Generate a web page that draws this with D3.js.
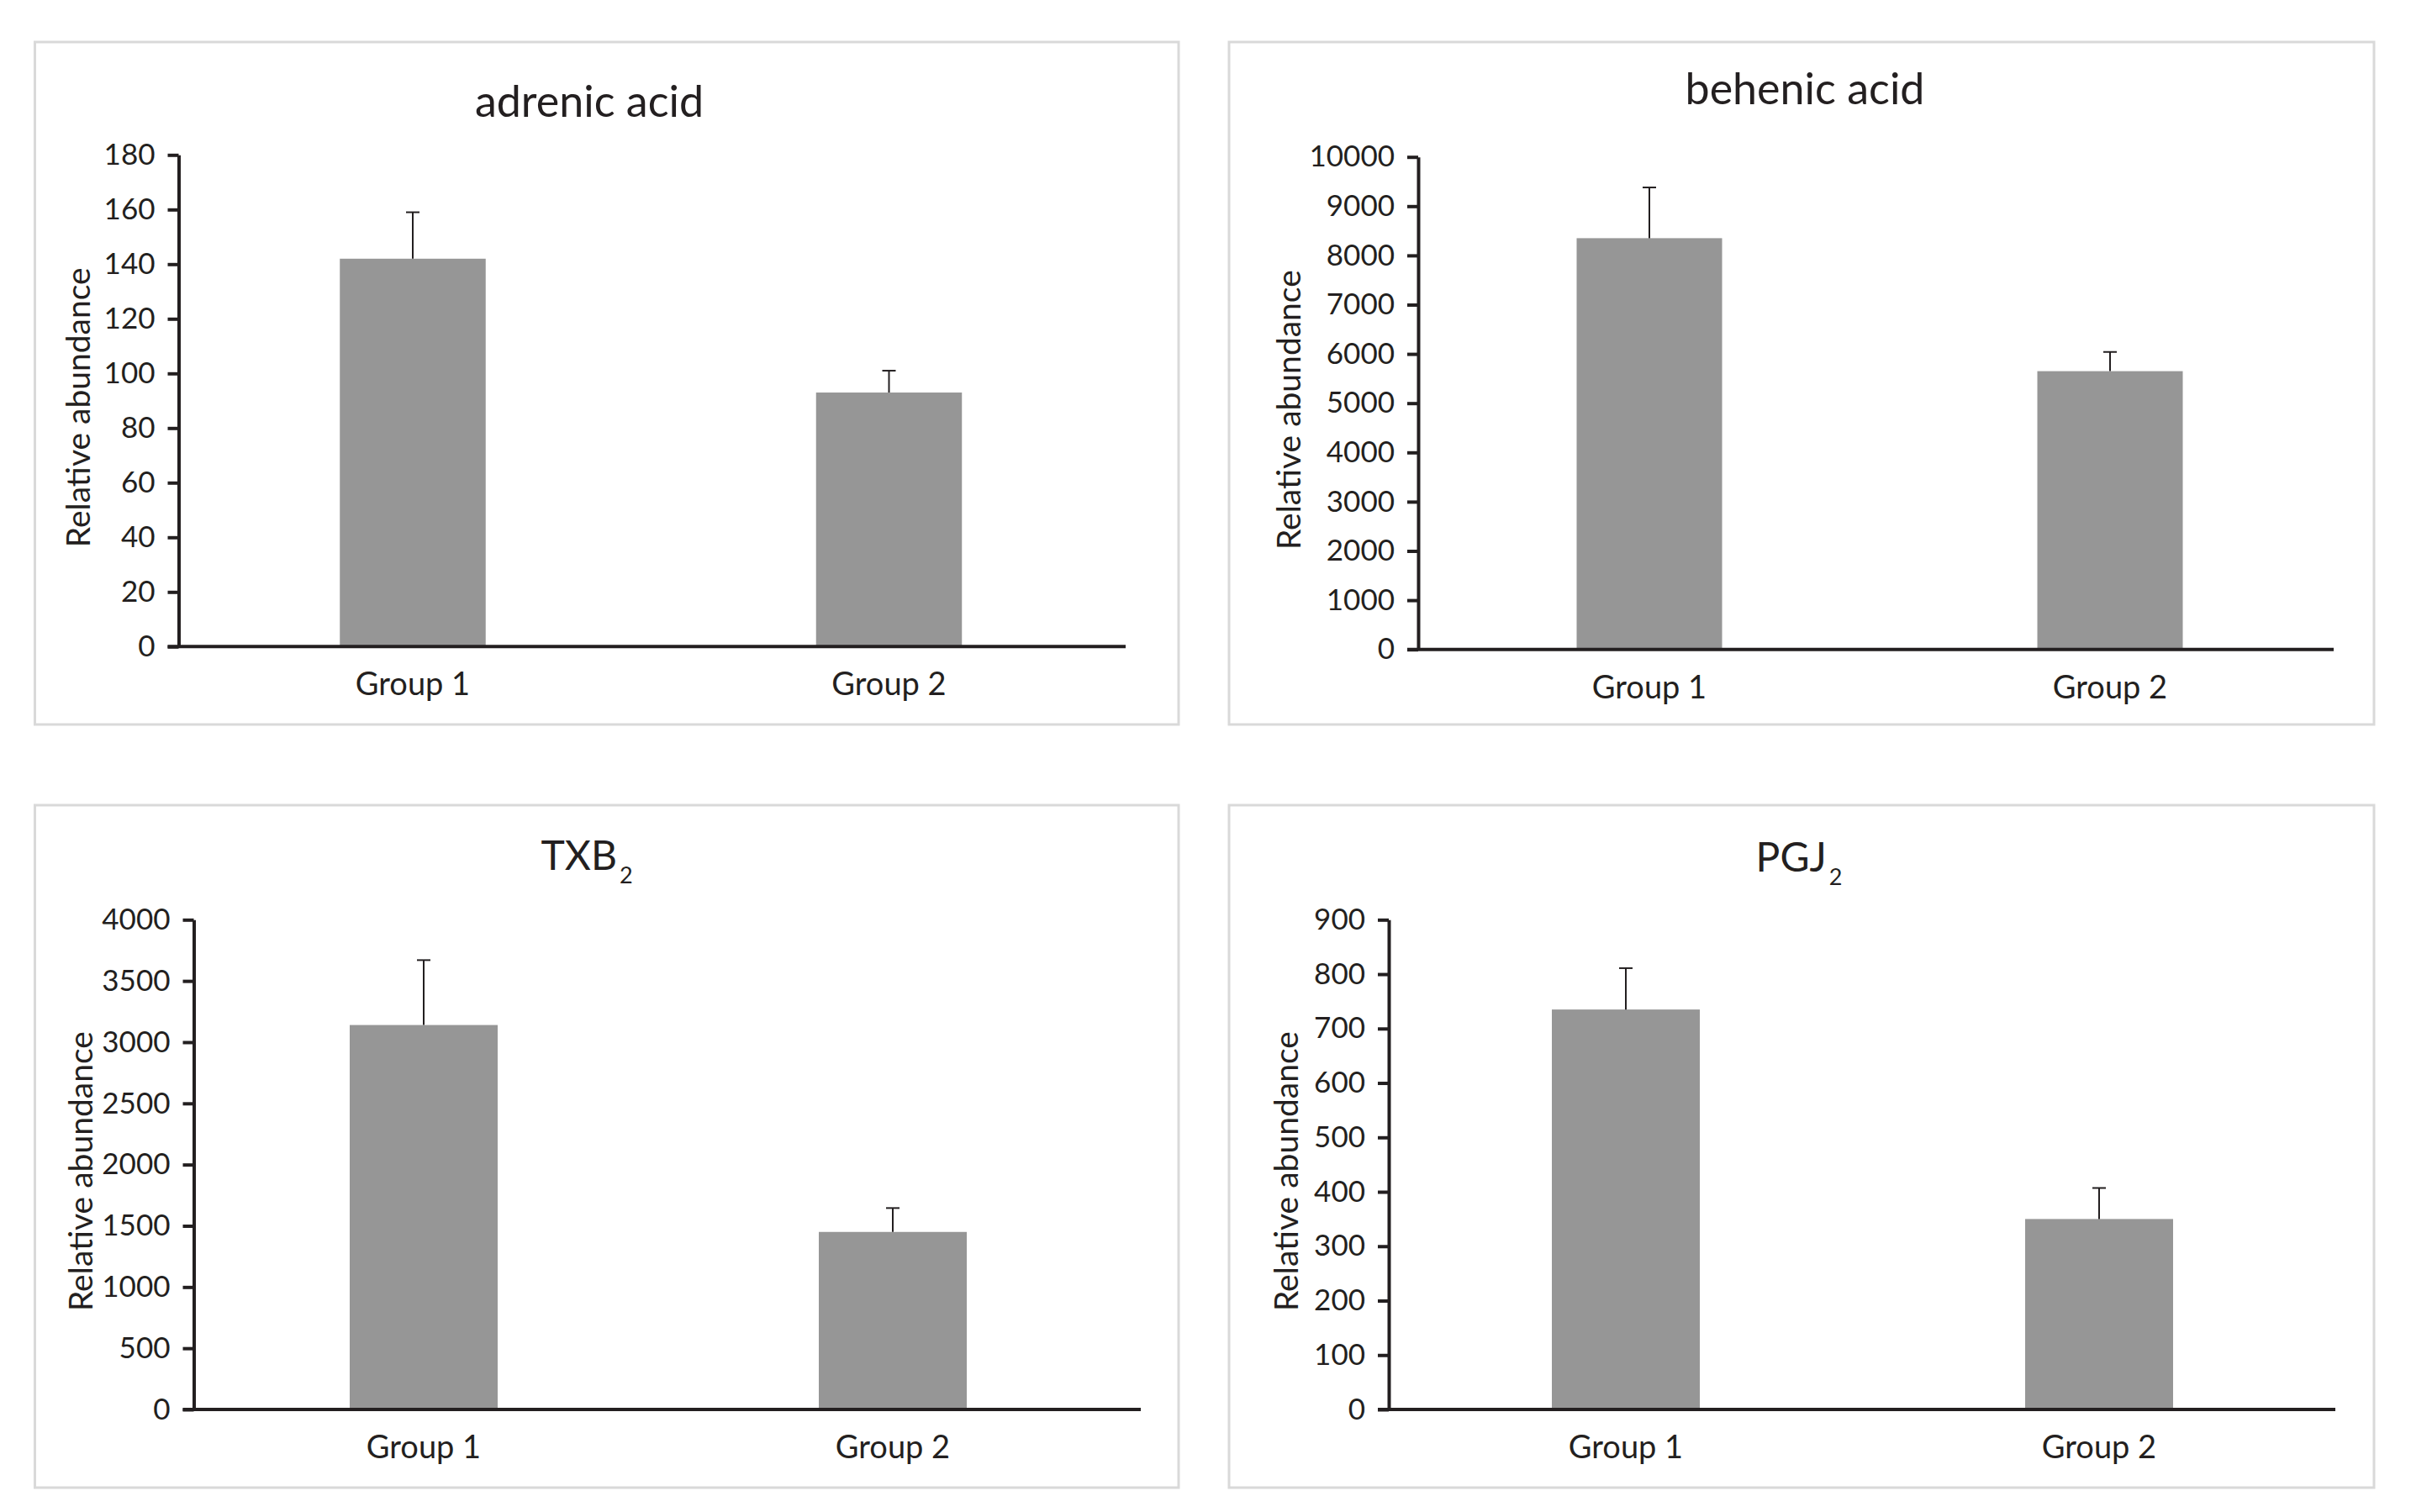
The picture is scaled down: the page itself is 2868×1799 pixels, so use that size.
<!DOCTYPE html>
<html>
<head>
<meta charset="utf-8">
<script src="https://cdn.jsdelivr.net/npm/d3@7"></script>
<style>
  html, body { margin: 0; padding: 0; background: #fff; }
  svg { display: block; }
  text { font-family: Lato, "Open Sans", sans-serif; fill: #231f20; }
</style>
</head>
<body>
<svg id="chart" width="2868" height="1799"></svg>
<script>
// Data (means and upper error bars)
const groups = ['Group 1', 'Group 2'];
const titles = ['adrenic acid', 'behenic acid', 'TXB', 'PGJ'];
const subscripts = ['', '', '2', '2'];

const adrenicMeans = [142, 93];
const adrenicErr = [17, 8];
const behenicMeans = [8350, 5650];
const behenicErr = [1030, 390];
const txbMeans = [3140, 1450];
const txbErr = [530, 195];
const pgjMeans = [735, 350];
const pgjErr = [76, 57];

const yMaxes = [180, 10000, 4000, 900];
const ySteps = [20, 1000, 500, 100];

const means = [adrenicMeans, behenicMeans, txbMeans, pgjMeans];
const errs = [adrenicErr, behenicErr, txbErr, pgjErr];

// Panel geometry (pixels)
const layout = [
  { box: [41.5, 50, 1402, 862], axisX: 212.5, top: 184.3, zero: 769.3, band: [207.75, 1340.75], barW: 173.5, xEnd: 1339, titleX: 701, titleY: 138.5, titleSize: 52, labelX: 107 },
  { box: [1462, 50, 2824, 862], axisX: 1687, top: 186.7, zero: 772.7, band: [1688, 2784], barW: 173, xEnd: 2776, titleX: 2147, titleY: 124, titleSize: 52, labelX: 1547 },
  { box: [41.5, 958, 1402, 1770], axisX: 230.5, top: 1094.3, zero: 1677, band: [225, 1341], barW: 176, xEnd: 1357, titleX: 698, titleY: 1035, titleSize: 48, labelX: 110 },
  { box: [1462, 958, 2824, 1770], axisX: 1652, top: 1094.3, zero: 1677, band: [1652.5, 2778.5], barW: 176, xEnd: 2778, titleX: 2140, titleY: 1037, titleSize: 48, labelX: 1544 },
];

const INK = '#231f20';
const svg = d3.select('#chart');

layout.forEach((L, i) => drawPanel(L, i));

function drawPanel(L, i) {
  const g = svg.append('g').attr('class', 'panel');
  const [x0, y0, x1, y1] = L.box;

  g.append('rect')
    .attr('x', x0).attr('y', y0)
    .attr('width', x1 - x0).attr('height', y1 - y0)
    .attr('fill', '#fff').attr('stroke', '#d9d9d9').attr('stroke-width', 3);

  const y = d3.scaleLinear().domain([0, yMaxes[i]]).range([L.zero, L.top]);
  const step = (L.band[1] - L.band[0]) / groups.length;
  const pad = 1 - L.barW / step;
  const x = d3.scaleBand().domain(groups).range(L.band)
    .paddingInner(pad).paddingOuter(pad / 2);

  const rows = groups.map((grp, k) => ({ grp, mean: means[i][k], err: errs[i][k] }));

  // bars
  g.append('g').selectAll('rect').data(rows).join('rect')
    .attr('x', d => x(d.grp))
    .attr('y', d => y(d.mean))
    .attr('width', x.bandwidth())
    .attr('height', d => y(0) - y(d.mean))
    .attr('fill', '#969696');

  // error bars (upper only)
  const eb = g.append('g').attr('stroke', INK).attr('stroke-width', 2);
  eb.selectAll('line.v').data(rows).join('line').attr('class', 'v')
    .attr('x1', d => x(d.grp) + x.bandwidth() / 2)
    .attr('x2', d => x(d.grp) + x.bandwidth() / 2)
    .attr('y1', d => y(d.mean))
    .attr('y2', d => y(d.mean + d.err));
  eb.selectAll('line.cap').data(rows).join('line').attr('class', 'cap')
    .attr('x1', d => x(d.grp) + x.bandwidth() / 2 - 8)
    .attr('x2', d => x(d.grp) + x.bandwidth() / 2 + 8)
    .attr('y1', d => y(d.mean + d.err))
    .attr('y2', d => y(d.mean + d.err));

  // y axis
  const ticks = d3.range(0, yMaxes[i] + ySteps[i] / 2, ySteps[i]);
  const yAxis = d3.axisLeft(y).tickValues(ticks).tickFormat(d3.format('d'))
    .tickSize(13).tickSizeOuter(0).tickPadding(15);
  const ag = g.append('g').attr('transform', `translate(${L.axisX},0)`).call(yAxis);
  ag.selectAll('path, line').attr('stroke', INK).attr('stroke-width', 4);
  ag.selectAll('text').attr('font-size', 35).attr('fill', INK)
    .style('font-family', 'Lato, sans-serif');

  // x axis line
  g.append('line')
    .attr('x1', L.axisX - 13).attr('x2', L.xEnd)
    .attr('y1', L.zero).attr('y2', L.zero)
    .attr('stroke', INK).attr('stroke-width', 4);

  // category labels
  g.append('g').selectAll('text').data(groups).join('text')
    .attr('x', d => x(d) + x.bandwidth() / 2)
    .attr('y', L.zero + 58)
    .attr('text-anchor', 'middle')
    .attr('font-size', 38)
    .text(d => d);

  // y label
  g.append('text')
    .attr('transform', `translate(${L.labelX},${(L.top + L.zero) / 2 + 8}) rotate(-90)`)
    .attr('text-anchor', 'middle')
    .attr('font-size', 39)
    .text('Relative abundance');

  // title
  const t = g.append('text')
    .attr('x', L.titleX).attr('y', L.titleY)
    .attr('text-anchor', 'middle')
    .attr('font-size', L.titleSize);
  t.append('tspan').text(titles[i]);
  if (subscripts[i]) {
    t.append('tspan').attr('font-size', 27).attr('dy', 16).attr('dx', 3).text(subscripts[i]);
  }
}
</script>
</body>
</html>
